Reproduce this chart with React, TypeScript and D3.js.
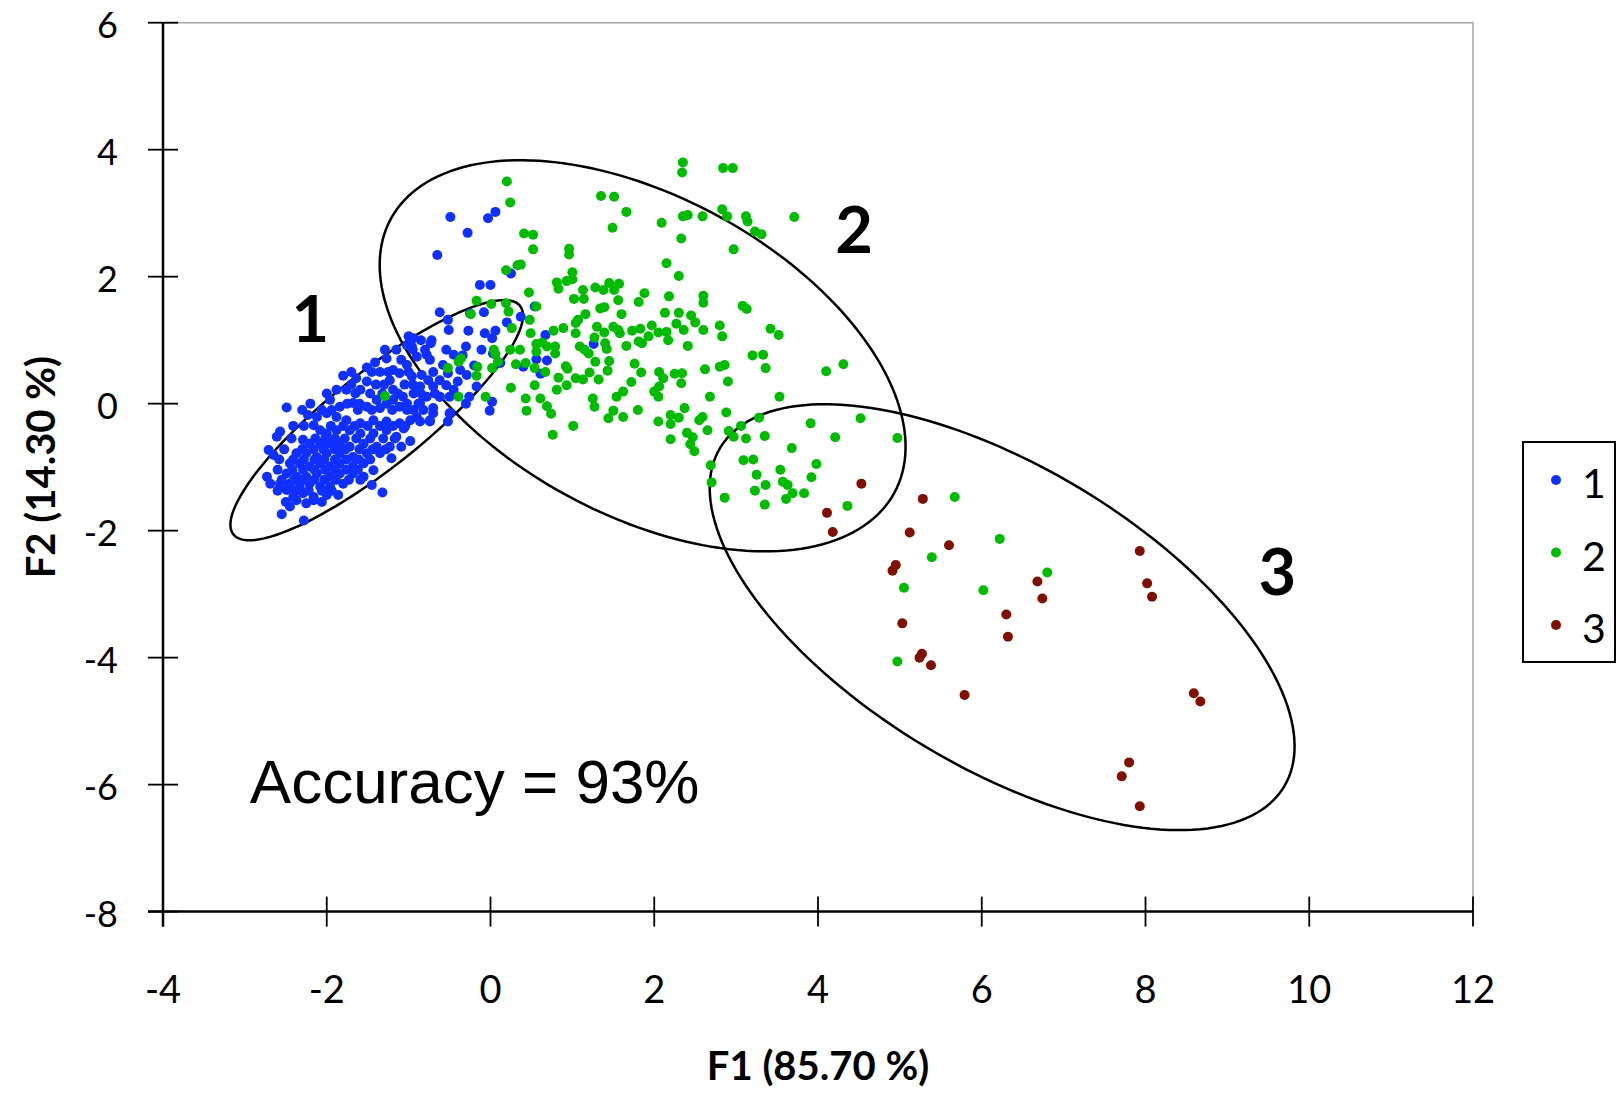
import * as d3 from "d3";
import React, { useEffect, useRef } from "react";

const xTicks = [-4, -2, 0, 2, 4, 6, 8, 10, 12];
const yTicks = [-8, -6, -4, -2, 0, 2, 4, 6];

const groupNames = ["1", "2", "3"];
const groupColors = ["#1030ff", "#00bb00", "#7f1000"];

// group 1 (blue)
const group1: [number, number][] = [
  [-0.51, 1.16], [0.03, 0.79],
  [-1.0, 1.06], [-0.94, 1.03], [-1.02, 0.92], [-0.96, 0.9], [-0.73, 0.95],
  [-0.54, 0.85], [-0.45, 0.77], [-0.34, 0.76], [-0.58, 0.61], [-0.52, 0.48], [-0.37, 0.53], [-0.29, 0.45],
  [-1.29, 0.85], [-1.27, 0.71], [-1.41, 0.65], [-1.51, 0.57], [-1.09, 0.69], [-1.02, 0.61], [-0.9, 0.74], [-0.78, 0.77], [-0.74, 0.69], [-1.19, 0.53], [-1.11, 0.48],
  [-1.8, 0.44], [-1.64, 0.4], [-1.51, 0.35], [-1.35, 0.5], [-1.23, 0.37], [-1.19, 0.22], [-0.96, 0.43], [-0.84, 0.45], [-0.76, 0.37], [-0.62, 0.37],
  [-0.86, 0.27], [-0.7, 0.27], [-0.54, 0.29], [-0.45, 0.22],
  [-1.88, 0.22], [-1.76, 0.22], [-1.59, 0.22], [-1.47, 0.16],
  [-1.39, 0.06], [-1.19, 0.06], [-1.07, 0.11], [-0.94, 0.16], [-0.78, 0.11], [-0.62, 0.11], [-0.5, 0.11],
  [-1.96, 0.06], [-1.84, -0.05], [-1.68, 0.01], [-1.51, -0.05], [-1.35, -0.07], [-1.11, -0.05], [-0.94, -0.1], [-0.82, -0.1], [-0.7, -0.15], [-0.5, -0.15],
  [-2.49, -0.06], [-2.23, -0.18], [-2.12, -0.21], [-2.0, -0.15], [-1.88, -0.21], [-1.76, -0.26], [-1.59, -0.31], [-1.43, -0.26], [-1.27, -0.28], [-1.11, -0.31], [-0.98, -0.26], [-0.86, -0.28], [-0.74, -0.28],
  [-2.41, -0.35], [-2.57, -0.44], [-2.61, -0.52], [-2.16, -0.34], [-2.08, -0.42], [-2.0, -0.47], [-1.88, -0.42], [-1.72, -0.42], [-1.59, -0.47], [-1.43, -0.47], [-1.27, -0.42], [-1.15, -0.52],
  [-2.29, -0.57], [-2.21, -0.63], [-2.08, -0.63], [-1.96, -0.63], [-1.84, -0.63], [-1.72, -0.68], [-1.55, -0.63], [-1.39, -0.68], [-1.23, -0.68], [-1.09, -0.68],
  [-2.71, -0.73], [-2.65, -0.81], [-2.37, -0.78], [-2.25, -0.78], [-2.12, -0.84], [-2.0, -0.78], [-1.84, -0.78], [-1.68, -0.84], [-1.51, -0.78], [-1.35, -0.78], [-1.21, -0.86],
  [-2.45, -0.94], [-2.33, -0.94], [-2.21, -0.99], [-2.08, -0.94], [-1.96, -0.99], [-1.84, -0.94], [-1.68, -0.99], [-1.55, -0.94],
  [-2.49, -1.1], [-2.37, -1.15], [-2.25, -1.15], [-2.12, -1.1], [-1.96, -1.15], [-1.84, -1.1], [-1.68, -1.1], [-1.43, -1.05], [-1.55, -1.15],
  [-2.73, -1.15], [-2.69, -1.26], [-2.57, -1.26], [-2.45, -1.26], [-2.33, -1.31], [-2.21, -1.26], [-2.08, -1.31], [-1.96, -1.31], [-1.8, -1.26],
  [-2.49, -1.36], [-2.41, -1.47], [-2.29, -1.41], [-2.16, -1.47], [-2.0, -1.44], [-1.86, -1.44], [-1.59, -1.2], [-1.45, -1.28],
  [-2.45, -1.62], [-2.55, -1.74], [-2.28, -1.84], [-1.32, -1.4], [-2.25, -1.57], [-2.37, -1.52], [-2.16, -1.52],
  [-0.49, 2.94], [-0.28, 2.69], [-0.03, 2.92], [0.06, 3.02], [-0.65, 2.34], [0.25, 2.05], [-0.13, 1.87], [0.0, 1.87],
  [-0.62, 1.44], [-0.52, 1.32], [-0.25, 1.42], [-0.08, 1.44], [-0.27, 1.15], [-0.07, 1.11], [0.06, 1.15], [0.02, 1.03],
  [0.2, 1.28], [0.37, 1.37], [0.54, 1.53], [0.67, 1.08], [-0.11, 0.85], [0.12, 0.64], [0.56, 0.7], [0.69, 0.68],
  [0.4, 0.58], [0.61, 0.47], [1.26, 0.94],
  [-0.01, -0.11], [0.02, 0.03], [-0.17, 0.27], [-0.26, 0.11], [-0.52, -0.28], [-0.49, -0.15], [-0.98, -0.59],
  [-1.06, -0.39], [-0.7, -0.07], [-0.62, 0.11], [-0.86, 0.01], [-0.74, -0.26], [-0.9, -0.21],
  // dense core, estimated
  [-2.3, -0.1], [-2.06, -0.1], [-1.94, -0.1], [-1.62, -0.1], [-1.45, -0.1], [-1.2, -0.1], [-1.02, -0.1],
  [-2.28, -0.35], [-1.95, -0.35], [-1.8, -0.35], [-1.66, -0.35], [-1.5, -0.35], [-1.35, -0.35], [-1.19, -0.35], [-1.04, -0.35],
  [-2.43, -0.55], [-2.14, -0.55], [-2.02, -0.55], [-1.9, -0.55], [-1.78, -0.55], [-1.64, -0.55], [-1.47, -0.55], [-1.31, -0.55], [-1.17, -0.55],
  [-2.52, -0.72], [-2.3, -0.72], [-2.16, -0.72], [-2.04, -0.72], [-1.9, -0.72], [-1.77, -0.72], [-1.6, -0.72], [-1.44, -0.72], [-1.28, -0.72],
  [-2.58, -0.88], [-2.41, -0.88], [-2.28, -0.88], [-2.15, -0.88], [-2.03, -0.88], [-1.9, -0.88], [-1.76, -0.88], [-1.61, -0.88], [-1.47, -0.88],
  [-2.6, -1.04], [-2.42, -1.04], [-2.29, -1.04], [-2.15, -1.04], [-2.02, -1.04], [-1.9, -1.04], [-1.76, -1.04], [-1.62, -1.04],
  [-2.55, -1.2], [-2.4, -1.2], [-2.29, -1.2], [-2.15, -1.2], [-2.03, -1.2], [-1.89, -1.2], [-1.73, -1.2],
  [-2.6, -1.37], [-2.38, -1.37], [-2.22, -1.37], [-2.06, -1.37], [-1.94, -1.37],
  [-2.5, -1.55], [-2.06, -1.55],
  [-1.7, 0.3], [-1.4, 0.3], [-1.3, 0.3], [-1.05, 0.3], [-0.95, 0.3],
  [-1.7, 0.5], [-1.45, 0.5], [-1.25, 0.5], [-1.0, 0.5], [-0.7, 0.5],
  [-2.2, 0.0], [-1.75, 0.0], [-1.6, 0.0], [-1.27, 0.0], [-1.02, 0.0], [-0.88, 0.0],
  [-2.0, 0.16], [-1.65, 0.16], [-1.32, 0.16], [-1.13, 0.16], [-0.85, 0.16], [-0.68, 0.16],
  [-0.95, 0.85], [-1.15, 0.85], [-0.8, 0.85], [-0.72, 1.0], [-0.85, 1.0],
  [-0.3, 0.9], [-0.2, 0.6], [-0.4, 0.35], [-0.3, 0.0],
];

// group 2 (green)
const group2: [number, number][] = [
  [0.2, 3.5], [0.24, 3.17], [1.35, 3.27], [1.51, 3.26], [1.66, 3.02], [1.49, 2.77], [2.35, 3.8], [2.34, 3.64],
  [2.84, 3.71], [2.96, 3.71], [2.83, 3.06], [2.89, 2.95], [2.59, 2.95], [2.35, 2.95], [2.41, 2.97], [2.09, 2.85],
  [2.33, 2.6], [3.12, 2.95], [3.14, 2.87], [3.23, 2.71], [3.31, 2.67], [3.71, 2.94], [2.97, 2.43],
  [0.41, 2.68], [0.52, 2.66], [0.52, 2.43], [0.96, 2.44], [0.96, 2.35], [0.33, 2.18], [0.37, 2.19], [0.19, 2.1],
  [2.15, 2.21], [2.3, 2.01],
  [1.0, 2.07], [1.0, 1.96], [0.81, 1.91], [0.83, 1.81], [0.93, 1.93], [0.47, 1.75], [-0.17, 1.62], [-0.24, 1.41],
  [0.01, 1.57], [0.19, 1.58], [0.22, 1.45], [0.56, 1.53], [0.48, 1.32], [0.26, 1.19], [0.49, 1.11],
  [1.02, 1.65], [1.14, 1.65], [1.13, 1.79], [1.28, 1.83], [1.38, 1.79], [1.45, 1.9], [1.57, 1.89], [1.51, 1.79],
  [1.56, 1.63], [1.88, 1.74], [1.81, 1.6], [2.18, 1.69], [2.6, 1.7], [2.6, 1.59], [3.08, 1.54], [3.13, 1.49],
  [1.34, 1.5], [1.39, 1.52], [1.16, 1.41], [1.6, 1.41], [2.13, 1.43], [2.3, 1.43], [2.45, 1.39], [2.5, 1.28],
  [2.8, 1.23], [2.83, 1.06], [2.6, 1.16], [3.42, 1.18], [3.52, 1.08],
  [1.04, 1.27], [1.07, 1.32], [1.04, 1.11], [1.3, 1.21], [1.39, 1.12], [1.27, 1.04], [1.5, 1.21], [1.56, 1.16],
  [1.58, 1.11], [1.73, 1.15], [1.83, 1.18], [1.97, 1.23], [1.93, 1.06], [2.05, 1.12], [2.15, 1.13], [2.27, 1.26],
  [2.36, 1.16], [2.17, 1.0], [2.41, 0.91], [1.66, 0.91], [1.81, 0.98], [1.85, 0.95], [1.4, 0.95], [1.42, 0.86],
  [1.09, 0.9], [1.15, 0.85], [1.2, 0.79],
  [0.77, 1.15], [0.89, 1.19], [0.63, 0.96], [0.69, 0.9], [0.79, 0.9], [0.56, 0.94], [0.56, 0.82], [0.79, 0.79],
  [0.36, 0.85], [0.24, 0.85], [0.31, 0.62], [0.43, 0.64], [0.04, 0.85], [0.06, 0.78],
  [-0.36, 0.71], [-0.39, 0.66], [-0.52, 0.56], [-0.16, 0.58], [0.02, 0.56], [0.09, 0.66], [-0.17, 0.44],
  [0.54, 0.56], [0.67, 0.5], [0.92, 0.59], [0.94, 0.55], [0.83, 0.41], [1.04, 0.4], [1.13, 0.38], [1.21, 0.49],
  [1.32, 0.38], [1.28, 0.66], [1.45, 0.67], [1.43, 0.52], [1.76, 0.63], [1.84, 0.49], [1.72, 0.34], [2.06, 0.5],
  [2.11, 0.4], [2.25, 0.47], [2.34, 0.48], [2.33, 0.32], [2.06, 0.27], [2.0, 0.19], [2.05, 0.11], [2.62, 0.54],
  [2.8, 0.58], [2.86, 0.61], [2.9, 0.35], [3.2, 0.76], [3.33, 0.77], [3.36, 0.56], [3.53, 0.11], [2.68, 0.11],
  [1.62, 0.19], [1.54, 0.11], [0.93, 0.29], [0.81, 0.22], [0.54, 0.29], [0.25, 0.25], [-0.06, 0.11], [-0.39, 0.11],
  [0.43, 0.08], [0.61, 0.08], [1.25, 0.08],
  [-1.29, 0.12],
  [0.44, -0.11], [0.69, -0.04], [0.74, -0.16], [1.01, -0.35], [0.76, -0.49], [1.27, -0.05], [1.44, -0.23],
  [1.5, -0.11], [1.62, -0.21],
  [1.8, -0.1], [2.05, -0.28], [2.2, -0.32], [2.2, -0.18], [2.3, -0.22], [2.37, -0.07], [2.55, -0.26], [2.59, -0.21],
  [2.65, -0.42], [2.88, -0.14], [2.2, -0.56], [2.4, -0.46], [2.47, -0.53], [2.44, -0.64], [2.49, -0.75], [2.91, -0.43],
  [2.97, -0.52], [3.06, -0.35], [3.12, -0.55], [3.28, -0.22], [3.35, -0.51], [3.68, -0.7], [3.91, -0.31], [4.21, -0.53],
  [4.52, -0.23], [4.97, -0.54], [2.69, -0.97], [2.7, -1.24], [2.86, -1.48], [3.09, -0.89], [3.21, -0.88], [3.25, -1.12],
  [3.36, -1.28], [3.23, -1.37], [3.35, -1.59], [3.54, -1.04], [3.57, -1.23], [3.63, -1.28], [3.69, -1.41], [3.61, -1.5],
  [3.83, -1.41], [3.92, -1.16], [3.98, -0.95], [4.36, -1.61], [4.1, 0.51], [4.31, 0.62],
  [5.67, -1.47], [6.22, -2.13], [5.39, -2.42], [6.8, -2.66], [6.02, -2.94], [5.05, -2.9], [4.97, -4.06],
];

// group 3 (dark red)
const group3: [number, number][] = [
  [4.53, -1.26], [4.11, -1.72], [4.18, -2.02], [5.28, -1.5], [5.12, -2.03], [5.6, -2.23], [4.95, -2.54],
  [4.91, -2.63], [6.68, -2.8], [6.74, -3.07], [6.3, -3.32], [6.32, -3.67], [5.03, -3.46], [5.27, -3.94],
  [5.24, -4.0], [5.38, -4.12], [5.79, -4.59], [7.93, -2.32], [8.02, -2.83], [8.08, -3.04], [8.59, -4.56],
  [8.67, -4.69], [7.8, -5.65], [7.71, -5.87], [7.93, -6.34],
];

// ellipses: centre + two semi-axis vectors, in data units
const ellipses = [
  { cx: -1.39, cy: -0.26, ux: 1.75, uy: 1.8, vx: 0.36, vy: -0.58 },
  { cx: 1.858, cy: 0.754, ux: 3.074, uy: -2.16, vx: -0.93, vy: -2.196 },
  { cx: 6.249, cy: -3.363, ux: 3.444, uy: -2.668, vx: -0.947, vy: -2.032 },
];

const clusterLabels = [
  { text: "1", x: -2.2, y: 0.97 },
  { text: "2", x: 4.44, y: 2.37 },
  { text: "3", x: 9.61, y: -3.01 },
];

const W = 1617;
const H = 1094;

const App = () => {
  const svgRef = useRef<SVGSVGElement | null>(null);

  useEffect(() => {
    document.body.style.margin = "0";
    const svg = d3.select(svgRef.current);
    svg.selectAll("*").remove();

    const x = d3.scaleLinear().domain([-4, 12]).range([163, 1473]);
    const y = d3.scaleLinear().domain([-8, 6]).range([911.6, 22.7]);
    const tickFont = "Lato, 'Open Sans', sans-serif";

    svg.append("rect").attr("width", W).attr("height", H).attr("fill", "#fff");

    // top & right frame
    svg
      .append("path")
      .attr("d", `M${x(-4)},${y(6)}H${x(12)}V${y(-8)}`)
      .attr("fill", "none")
      .attr("stroke", "#a6a6a6")
      .attr("stroke-width", 1.5);

    // ellipses
    const line = d3.line().curve(d3.curveLinearClosed);
    const ts = d3.range(0, 2 * Math.PI, Math.PI / 90);
    ellipses.forEach((e) => {
      const pts = ts.map((t) => [
        x(e.cx + e.ux * Math.cos(t) + e.vx * Math.sin(t)),
        y(e.cy + e.uy * Math.cos(t) + e.vy * Math.sin(t)),
      ]) as [number, number][];
      svg
        .append("path")
        .attr("d", line(pts))
        .attr("fill", "none")
        .attr("stroke", "#000")
        .attr("stroke-width", 2.5);
    });

    // points
    [group1, group2, group3].forEach((g, i) => {
      svg
        .append("g")
        .selectAll("circle")
        .data(g)
        .enter()
        .append("circle")
        .attr("cx", (d) => x(d[0]))
        .attr("cy", (d) => y(d[1]))
        .attr("r", 5)
        .attr("fill", groupColors[i]);
    });

    // axes
    const ax = svg.append("g").attr("stroke", "#000");
    ax.append("line")
      .attr("x1", x(-4)).attr("x2", x(-4))
      .attr("y1", y(6)).attr("y2", y(-8) + 15)
      .attr("stroke-width", 2.5);
    ax.append("line")
      .attr("x1", x(-4) - 15).attr("x2", x(12))
      .attr("y1", y(-8)).attr("y2", y(-8))
      .attr("stroke-width", 2.5);
    yTicks.forEach((t) => {
      ax.append("line")
        .attr("x1", x(-4) - 15).attr("x2", x(-4) + 15)
        .attr("y1", y(t)).attr("y2", y(t))
        .attr("stroke-width", 1.8);
    });
    xTicks.forEach((t) => {
      ax.append("line")
        .attr("x1", x(t)).attr("x2", x(t))
        .attr("y1", y(-8) - 15).attr("y2", y(-8) + 15)
        .attr("stroke-width", 1.8);
    });

    svg
      .append("g")
      .selectAll("text")
      .data(yTicks)
      .enter()
      .append("text")
      .attr("x", 118)
      .attr("y", (d) => y(d) + 15)
      .attr("text-anchor", "end")
      .attr("font-family", tickFont)
      .attr("font-size", 36)
      .text((d) => d);

    svg
      .append("g")
      .selectAll("text")
      .data(xTicks)
      .enter()
      .append("text")
      .attr("x", (d) => x(d))
      .attr("y", 1003)
      .attr("text-anchor", "middle")
      .attr("font-family", tickFont)
      .attr("font-size", 38)
      .text((d) => d);

    // axis titles
    svg
      .append("text")
      .attr("x", (x(-4) + x(12)) / 2)
      .attr("y", 1080)
      .attr("text-anchor", "middle")
      .attr("font-family", tickFont)
      .attr("font-weight", "bold")
      .attr("font-size", 40)
      .text("F1 (85.70 %)");
    svg
      .append("text")
      .attr("transform", `translate(55,${(y(6) + y(-8)) / 2}) rotate(-90)`)
      .attr("text-anchor", "middle")
      .attr("font-family", tickFont)
      .attr("font-weight", "bold")
      .attr("font-size", 40)
      .text("F2 (14.30 %)");

    // cluster labels
    svg
      .append("g")
      .selectAll("text")
      .data(clusterLabels)
      .enter()
      .append("text")
      .attr("x", (d) => x(d.x))
      .attr("y", (d) => y(d.y))
      .attr("text-anchor", "middle")
      .attr("font-family", tickFont)
      .attr("font-weight", "bold")
      .attr("font-size", 65)
      .text((d) => d.text);

    svg
      .append("text")
      .attr("x", x(-2.94))
      .attr("y", y(-6.29))
      .attr("font-family", "'Liberation Sans', Arial, sans-serif")
      .attr("font-size", 62)
      .text("Accuracy = 93%");

    // legend
    const lg = svg.append("g");
    lg.append("rect")
      .attr("x", 1523)
      .attr("y", 442)
      .attr("width", 92)
      .attr("height", 220)
      .attr("fill", "#fff")
      .attr("stroke", "#000")
      .attr("stroke-width", 2);
    groupNames.forEach((n, i) => {
      const cy = 480 + i * 72.5;
      lg.append("circle").attr("cx", 1556).attr("cy", cy).attr("r", 5).attr("fill", groupColors[i]);
      lg.append("text")
        .attr("x", 1582)
        .attr("y", cy + 18)
        .attr("font-family", tickFont)
        .attr("font-size", 41)
        .text(n);
    });
  }, []);

  return <svg ref={svgRef} width={W} height={H} style={{ display: "block" }}></svg>;
};

export default App;
